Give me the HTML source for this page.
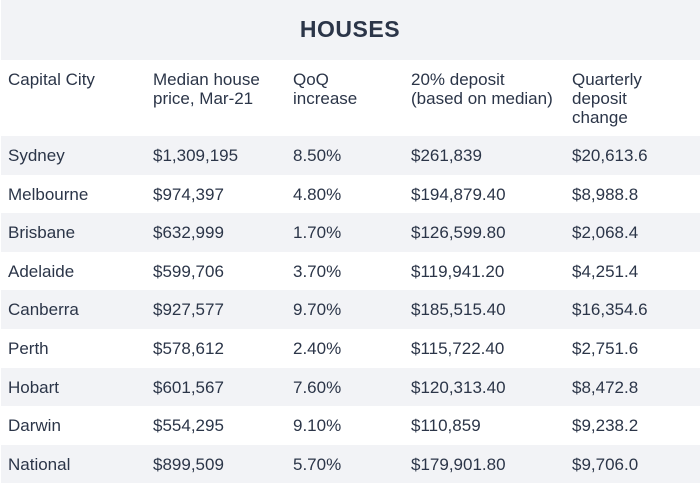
<!DOCTYPE html>
<html><head><style>
body{margin:0;width:700px;height:487px;background:#fff;font-family:"Liberation Sans",sans-serif;color:#2b3548;position:relative;overflow:hidden}
.band{position:absolute;left:1px;right:0;background:#f2f3f6}
.t{position:absolute;font-size:17px;line-height:19px;white-space:nowrap}
h1{position:absolute;left:0;right:0;top:16px;margin:0;text-align:center;font-size:23px;font-weight:bold;color:#2b3548;letter-spacing:0.5px}
</style></head><body>
<div class="band" style="top:0;height:60px"></div>
<h1>HOUSES</h1>
<div class="t" style="left:8px;top:70px">Capital City</div>
<div class="t" style="left:153px;top:70px">Median house<br>price, Mar-21</div>
<div class="t" style="left:293px;top:70px">QoQ<br>increase</div>
<div class="t" style="left:411px;top:70px">20% deposit<br>(based on median)</div>
<div class="t" style="left:572px;top:70px">Quarterly<br>deposit<br>change</div>
<div id="rows"></div>
<script>
var d=[["Sydney","$1,309,195","8.50%","$261,839","$20,613.6"],["Melbourne","$974,397","4.80%","$194,879.40","$8,988.8"],["Brisbane","$632,999","1.70%","$126,599.80","$2,068.4"],["Adelaide","$599,706","3.70%","$119,941.20","$4,251.4"],["Canberra","$927,577","9.70%","$185,515.40","$16,354.6"],["Perth","$578,612","2.40%","$115,722.40","$2,751.6"],["Hobart","$601,567","7.60%","$120,313.40","$8,472.8"],["Darwin","$554,295","9.10%","$110,859","$9,238.2"],["National","$899,509","5.70%","$179,901.80","$9,706.0"]];
var xs=[8,153,293,411,572],h="";
d.forEach(function(r,i){var top=136+i*38.6;
if(i%2==0)h+='<div class="band" style="top:'+top+'px;height:38.6px"></div>';
r.forEach(function(c,j){h+='<div class="t" style="left:'+xs[j]+'px;top:'+(top+10)+'px">'+c+'</div>';});});
document.getElementById("rows").innerHTML=h;
</script>
</body></html>
